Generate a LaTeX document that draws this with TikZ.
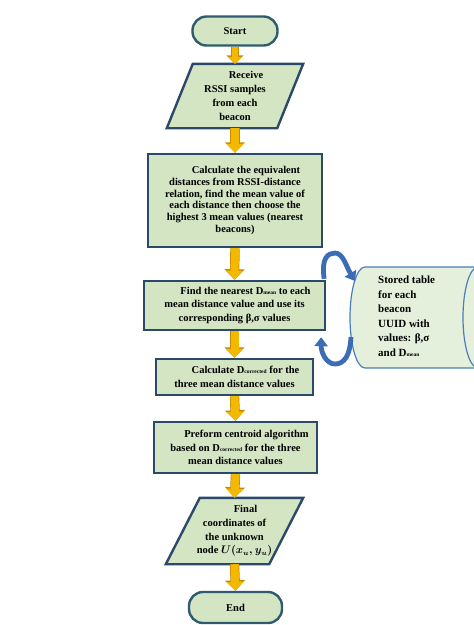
\documentclass[tikz,border=0pt]{standalone}
\usepackage{fontspec}
\setmainfont{Liberation Serif}
\usepackage{amsmath}
\usetikzlibrary{arrows.meta,calc}
\pgfdeclarelayer{background}
\pgfsetlayers{background,main}
\definecolor{boxfill}{HTML}{D3E5C3}
\definecolor{boxedge}{HTML}{2B4A6A}
\definecolor{termedge}{HTML}{2E5C6E}
\definecolor{arrgold}{HTML}{F4B800}
\definecolor{arredge}{HTML}{C48A00}
\definecolor{cylfill}{HTML}{E4F0DC}
\definecolor{cyledge}{HTML}{4A7EBB}
\definecolor{loopblue}{HTML}{3A6DB5}
\newcommand{\smtxt}[1]{{\fontsize{5.5pt}{5pt}\selectfont #1}}
\begin{document}
\begin{tikzpicture}[x=1pt,y=-1pt,
  txtfont/.style={font=\bfseries\fontsize{10.5pt}{13.8pt}\selectfont},
  procbox/.style={draw=boxedge, line width=2.4pt, fill=boxfill, align=center, txtfont, inner sep=0pt},
  termbox/.style={procbox, draw=termedge, rounded corners=14pt},
  iobox/.style={align=center, txtfont, inner sep=0pt},
  para/.style={draw=boxedge, line width=2.4pt, fill=boxfill, line join=miter},
  yarr/.style={draw=arrgold, line width=8pt, -{Triangle[width=17pt,length=9pt]},
    preaction={draw=arredge, line width=9.4pt, -{Triangle[width=19.5pt,length=10.5pt]}}},
  yarrsmall/.style={draw=arrgold, line width=6pt, -{Triangle[width=14pt,length=7pt]},
    preaction={draw=arredge, line width=7.4pt, -{Triangle[width=16.5pt,length=8.5pt]}}},
  looparr/.style={draw=loopblue, line width=4.8pt, -{Triangle[width=13pt,length=9pt]}}
]
\useasboundingbox (0,0) rectangle (474,625);
\clip (0,0) rectangle (474,625);

% nodes
\node[termbox, minimum width=85pt, minimum height=29pt] (start) at (235,31) {Start};
\node[iobox, minimum width=136pt, minimum height=64pt] (recv) at (235,96)
  {\hspace*{22pt}Receive\\RSSI samples\\from each\\beacon};
\node[procbox, minimum width=174pt, minimum height=93pt,
  font=\bfseries\fontsize{10.5pt}{11.7pt}\selectfont] (calc) at (235,200.5)
  {\hspace*{22pt}Calculate the equivalent\\distances from RSSI-distance\\relation, find the mean value of\\each distance then choose the\\highest 3 mean values (nearest\\beacons)};
\node[procbox, minimum width=181pt, minimum height=49pt] (find) at (234.5,305.5)
  {\hspace*{22pt}Find the nearest D\smtxt{mean} to each\\mean distance value and use its\\corresponding β,σ values};
\node[procbox, minimum width=157pt, minimum height=36pt] (dcor) at (234.5,377)
  {\hspace*{22pt}Calculate D\smtxt{corrected} for the\\three mean distance values};
\node[procbox, minimum width=163pt, minimum height=51pt] (pref) at (235.5,447.5)
  {\hspace*{22pt}Preform centroid algorithm\\based on D\smtxt{corrected} for the three\\mean distance values};
\node[iobox, minimum width=137pt, minimum height=66pt] (final) at (234.5,531)
  {\hspace*{22pt}Final\\coordinates of\\the unknown\\node {\boldmath$U(x_u,y_u)$}};
\node[termbox, minimum width=93pt, minimum height=31pt] (end) at (235.5,607.5) {End};

\node[anchor=west, align=left, inner sep=0pt,
  font=\bfseries\fontsize{11pt}{14.5pt}\selectfont] (store) at (378,316)
  {Stored table\\for each\\beacon\\UUID with\\values: β,σ\\and D\smtxt{mean}};

% background shapes
\begin{pgfonlayer}{background}
  \draw[para] (recv.south west) -- ($(recv.north west)+(26,0)$) -- (recv.north east)
    -- ($(recv.south east)+(-26,0)$) -- cycle;
  \draw[para] (final.south west) -- ($(final.north west)+(34,0)$) -- (final.north east)
    -- ($(final.south east)+(-34,0)$) -- cycle;
  % cylinder
  \fill[cylfill] (365,267) -- (490,267) -- (490,368) -- (365,368)
    arc[start angle=270, end angle=90, x radius=15pt, y radius=50.5pt] -- cycle;
  \draw[cyledge, line width=1.2pt] (490,267) -- (365,267)
    arc[start angle=90, end angle=270, x radius=15pt, y radius=50.5pt] -- (490,368);
  \draw[cyledge, line width=1.2pt] (478,317.5) ellipse [x radius=15pt, y radius=50.5pt];
\end{pgfonlayer}

% yellow flow arrows
\draw[yarrsmall] (start.south) -- (recv.north);
\draw[yarr] (recv.south) -- (calc.north);
\draw[yarr] (calc.south) -- (find.north);
\draw[yarr] (find.south) -- (dcor.north);
\draw[yarr] (dcor.south) -- (pref.north);
\draw[yarr] (pref.south) -- (final.north);
\draw[yarr] (final.south) -- (end.north);

% blue loop arrows
\coordinate (loopAs) at ($(find.north east)+(-2,-1)$);
\coordinate (loopAe) at (355,281);
\coordinate (loopBs) at (351,337);
\coordinate (loopBe) at ($(find.south east)+(-5,6)$);
\draw[looparr] (loopAs) .. controls (321,258) and (328,253) .. (335,253)
  .. controls (343,253) and (346,266) .. (loopAe);
\draw[looparr] (loopBs) .. controls (350,356) and (344,364) .. (335,364)
  .. controls (326,364) and (321,352) .. (loopBe);
\end{tikzpicture}
\end{document}
